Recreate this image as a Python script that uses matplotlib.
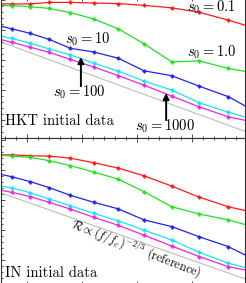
import matplotlib
matplotlib.use("Agg")
import matplotlib.pyplot as plt
from matplotlib.ticker import MultipleLocator, NullFormatter

plt.rcParams['font.family'] = ['cmr10', 'DejaVu Serif']
plt.rcParams['mathtext.fontset'] = 'cm'
plt.rcParams['axes.unicode_minus'] = False

# x: log10(f) positions of the computed points (first/last lie just outside the view)
x_pts = [0.50, 0.727, 1.055, 1.40, 1.79, 2.21, 2.66, 3.13, 3.63, 4.13, 4.66, 5.00]

# HKT initial data: log10 R
hkt_s01 = [-0.13, -0.13, -0.13, -0.08, -0.08, -0.10, -0.12, -0.18, -0.26, -0.41, -0.67, -0.86]
hkt_s1 = [-0.18, -0.19, -0.22, -0.28, -0.42, -0.63, -0.96, -1.46, -2.06, -2.03, -2.28, -2.39]
hkt_s10 = [-0.86, -0.96, -1.11, -1.31, -1.61, -1.73, -1.94, -2.36, -2.52, -2.87, -3.22, -3.56]
hkt_s100 = [-1.19, -1.28, -1.44, -1.63, -1.83, -2.10, -2.37, -2.70, -3.00, -3.42, -3.74, -3.91]
hkt_s1000 = [-1.31, -1.41, -1.57, -1.74, -1.98, -2.23, -2.52, -2.84, -3.20, -3.56, -3.89, -4.02]

# IN initial data: log10 R
in_s01 = [-0.48, -0.48, -0.51, -0.52, -0.59, -0.74, -0.92, -1.18, -1.52, -1.89, -2.21, -2.35]
in_s1 = [-0.49, -0.52, -0.56, -0.67, -0.84, -1.05, -1.29, -1.71, -2.21, -2.45, -2.65, -2.82]
in_s10 = [-1.12, -1.21, -1.37, -1.57, -1.83, -2.06, -2.28, -2.65, -2.87, -3.21, -3.54, -3.85]
in_s100 = [-1.52, -1.58, -1.74, -1.95, -2.18, -2.43, -2.68, -2.99, -3.32, -3.73, -4.09, -4.25]
in_s1000 = [-1.65, -1.73, -1.87, -2.06, -2.29, -2.56, -2.83, -3.16, -3.52, -3.87, -4.21, -4.33]

# reference line R ~ (f/fc)^(-2/3)
ref_x = [0.50, 5.00]
hkt_ref = [-1.38, -4.40]
in_ref = [-1.73, -4.64]

series_labels = ['$s_0 = 0.1$', '$s_0 = 1.0$', '$s_0 = 10$', '$s_0 = 100$', '$s_0 = 1000$']
colors = ['#ff1a1a', '#22e022', '#2222ee', '#11e8f0', '#ee22ee']

W, H = 246, 283
fig = plt.figure(figsize=(W / 100, H / 100), dpi=100)
left = 1 / W
width = 244 / W
ax1 = fig.add_axes([left, 1 - 137.5 / H, width, 140.5 / H])
ax2 = fig.add_axes([left, 1 - 285 / H, width, 147.5 / H])

def style(ax, ylo):
    ax.set_xlim(0.527, 4.964)
    ax.set_ylim(ylo, 0.1)
    ax.xaxis.set_major_locator(MultipleLocator(1.0))
    ax.xaxis.set_minor_locator(MultipleLocator(0.2))
    ax.yaxis.set_major_locator(MultipleLocator(1.0))
    ax.yaxis.set_minor_locator(MultipleLocator(0.2))
    ax.xaxis.set_major_formatter(NullFormatter())
    ax.yaxis.set_major_formatter(NullFormatter())
    ax.tick_params(which='both', direction='in', top=True, bottom=True, left=True, right=False,
                   color='#333333', width=0.6)
    ax.tick_params(which='major', length=2.6)
    ax.tick_params(which='minor', length=1.5)
    for s in ax.spines.values():
        s.set_linewidth(0.8)
        s.set_color('#333333')

def draw(ax, data, ref):
    ax.plot(ref_x, ref, color='#bdbdbd', lw=0.8, zorder=1)
    for ys, c in zip(data, colors):
        ax.plot(x_pts, ys, color=c, lw=0.9, marker='+', ms=3.0, mew=0.7, zorder=2)
        ax.plot(x_pts, ys, ls='none', color=c, marker='o', ms=2.2, mfc='none', mew=0.5, zorder=2)

style(ax1, -4.58)
style(ax2, -4.82)
draw(ax1, [hkt_s01, hkt_s1, hkt_s10, hkt_s100, hkt_s1000], hkt_ref)
draw(ax2, [in_s01, in_s1, in_s10, in_s100, in_s1000], in_ref)

fs = 10.5
ax1.text(4.35, -0.25, series_labels[0], fontsize=fs, ha='center', va='center')
ax1.text(4.35, -1.73, series_labels[1], fontsize=fs, ha='center', va='center')
ax1.text(2.11, -1.30, series_labels[2], fontsize=fs, ha='center', va='center')
ax1.text(1.96, -3.07, series_labels[3], fontsize=fs, ha='center', va='center')
ax1.text(3.51, -4.20, series_labels[4], fontsize=fs, ha='center', va='center')
arrow = dict(arrowstyle='-|>', color='black', lw=1.4, mutation_scale=9, shrinkA=0, shrinkB=0)
ax1.annotate('', xy=(1.98, -1.90), xytext=(1.98, -2.87), arrowprops=arrow)
ax1.annotate('', xy=(3.53, -3.10), xytext=(3.53, -4.00), arrowprops=arrow)
ax1.text(0.60, -4.05, 'HKT initial data', fontsize=fs, ha='left', va='center')

ax2.text(0.60, -4.42, 'IN initial data', fontsize=fs, ha='left', va='center')
ax2.text(2.98, -3.60, r'$\mathcal{R} \propto (f/f_c)^{-2/3}$ (reference)', fontsize=8.8,
         ha='center', va='center', rotation=-21, rotation_mode='anchor')

fig.savefig('out.png', dpi=100)
